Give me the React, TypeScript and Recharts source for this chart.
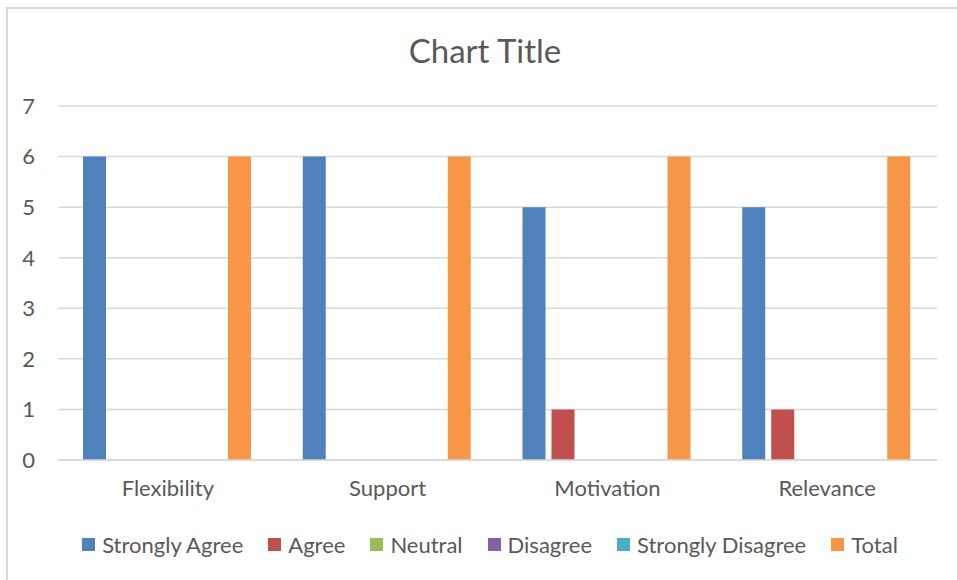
import React from "react";
import { BarChart, Bar, XAxis, YAxis, CartesianGrid, Legend } from "recharts";

const categories = ["Flexibility", "Support", "Motivation", "Relevance"];
const stronglyAgree = [6, 6, 5, 5];
const agree = [0, 0, 1, 1];
const neutral = [0, 0, 0, 0];
const disagree = [0, 0, 0, 0];
const stronglyDisagree = [0, 0, 0, 0];
const total = [6, 6, 6, 6];
const yTicks = [0, 1, 2, 3, 4, 5, 6, 7];

const seriesNames = ["Strongly Agree", "Agree", "Neutral", "Disagree", "Strongly Disagree", "Total"];
const seriesValues = [stronglyAgree, agree, neutral, disagree, stronglyDisagree, total];
const seriesColors = ["#4f81bd", "#c0504d", "#9bbb59", "#8064a2", "#4bacc6", "#f79646"];

const data = categories.map((c, i) => {
  const row: Record<string, string | number> = { name: c };
  seriesNames.forEach((s, j) => {
    row[s] = seriesValues[j][i];
  });
  return row;
});

const FONT = "Lato, 'Open Sans', sans-serif";
const TEXT = "#595959";

const LegendContent = () => {
  return (
    <div
      style={{
        height: 30,
        display: "flex",
        justifyContent: "center",
        alignItems: "center",
        fontFamily: FONT,
        fontSize: 22,
        color: TEXT,
        paddingLeft: 23,
      }}
    >
      {seriesNames.map((s, i) => (
        <div key={s} style={{ display: "flex", alignItems: "center", marginLeft: i === 0 ? 0 : 25 }}>
          <span style={{ width: 13, height: 13, background: seriesColors[i], display: "inline-block", marginRight: 7 }} />
          <span>{s}</span>
        </div>
      ))}
    </div>
  );
};

export default function App() {
  return (
    <div style={{ position: "absolute", left: 0, top: 0, width: 957, height: 580, background: "#fff", overflow: "hidden" }}>
      <div
        style={{
          position: "absolute",
          left: 6,
          top: 7,
          width: 960,
          height: 580,
          border: "2px solid #d9d9d9",
          boxSizing: "border-box",
        }}
      />
      <div
        style={{
          position: "absolute",
          left: 0,
          width: 970,
          top: 27,
          textAlign: "center",
          fontFamily: FONT,
          fontSize: 33,
          color: TEXT,
          lineHeight: "46px",
        }}
      >
        Chart Title
      </div>
      <div style={{ position: "absolute", left: 0, top: 0 }}>
        <BarChart
          width={957}
          height={580}
          data={data}
          margin={{ top: 106, right: 20, bottom: 0, left: 0 }}
          barCategoryGap={25}
          barGap={6}
        >
          <CartesianGrid vertical={false} stroke="#d9d9d9" strokeWidth={1.5} />
          <XAxis
            dataKey="name"
            axisLine={{ stroke: "#d9d9d9", strokeWidth: 1.5 }}
            tickLine={false}
            tickSize={0}
            tickMargin={20}
            height={90}
            tick={{ fill: TEXT, fontSize: 22, fontFamily: FONT }}
          />
          <YAxis
            domain={[0, 7]}
            ticks={yTicks}
            axisLine={false}
            tickLine={false}
            tickSize={0}
            tickMargin={23}
            width={58}
            tick={{ fill: TEXT, fontSize: 22, fontFamily: FONT }}
          />
          <Legend
            verticalAlign="bottom"
            content={<LegendContent />}
            wrapperStyle={{ top: 529, left: 0, width: 957, height: 30, bottom: "auto" }}
          />
          {seriesNames.map((s, j) => (
            <Bar key={s} dataKey={s} fill={seriesColors[j]} isAnimationActive={false} />
          ))}
        </BarChart>
      </div>
    </div>
  );
}
